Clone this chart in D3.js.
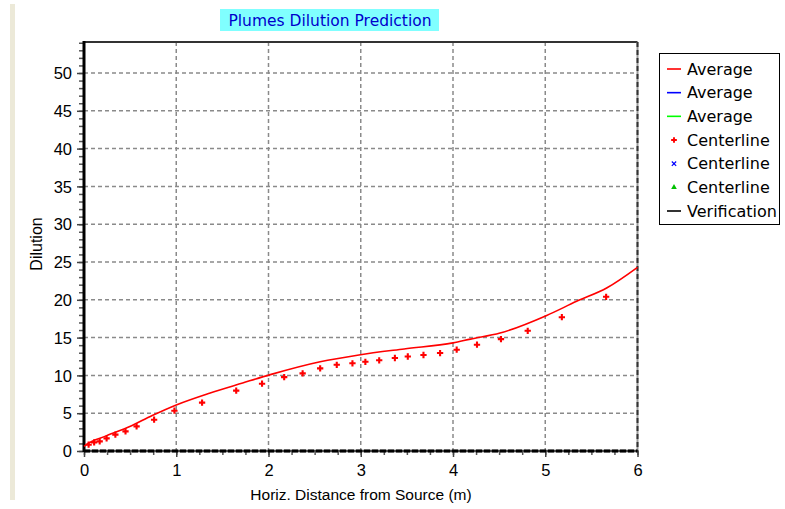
<!DOCTYPE html>
<html><head><meta charset="utf-8">
<script src="https://cdn.jsdelivr.net/npm/d3@7"></script>
<style>body{margin:0;background:#fff}svg{display:block}text{font-family:"Liberation Sans",Arial,sans-serif}text.v{font-family:"DejaVu Sans",Verdana,sans-serif}</style>
</head><body><svg id="c" width="785" height="509"></svg>
<script>
const titleText = "Plumes Dilution Prediction";
const xLabel = "Horiz. Distance from Source (m)";
const yLabel = "Dilution";
const xTicks = [0,1,2,3,4,5,6];
const yTicks = [0,5,10,15,20,25,30,35,40,45,50];
const avgX = [0, 0.02, 0.24, 0.49, 0.74, 1.0, 1.36, 1.72, 2.02, 2.56, 2.98, 3.47, 4.0, 4.19, 4.51, 5.01, 5.34, 5.67, 6.0];
const avgY = [0.6, 0.8, 2.0, 3.2, 4.7, 6.1, 7.65, 9.0, 10.1, 11.8, 12.7, 13.5, 14.3, 14.8, 15.6, 17.9, 19.8, 21.6, 24.3];
const cX = [0.05, 0.11, 0.17, 0.245, 0.34, 0.45, 0.57, 0.76, 0.98, 1.28, 1.65, 1.93, 2.17, 2.37, 2.56, 2.74, 2.91, 3.05, 3.2, 3.37, 3.51, 3.68, 3.86, 4.04, 4.26, 4.52, 4.81, 5.18, 5.66];
const cY = [0.83, 1.14, 1.27, 1.67, 2.16, 2.6, 3.26, 4.14, 5.33, 6.4, 7.98, 8.9, 9.77, 10.27, 10.93, 11.4, 11.6, 11.8, 12.0, 12.3, 12.5, 12.7, 12.96, 13.4, 14.06, 14.8, 15.9, 17.7, 20.4];
const legendNames = ["Average","Average","Average","Centerline","Centerline","Centerline","Verification"];
const legendKinds = ["line","line","line","plus","cross","tri","line"];
const legendColors = ["#ff0000","#0000ff","#00ff00","#ff0000","#0000ff","#00c000","#000000"];

const svg = d3.select("#c");
const L=84, R=637.5, T=42, B=451;
const x = d3.scaleLinear().domain([0,6]).range([L,R]);
const y = d3.scaleLinear().domain([0,54.1]).range([B,T]);

// beige strip
svg.append("rect").attr("x",10).attr("y",4).attr("width",5).attr("height",496).attr("fill","#ece9d8");

// title
const tg = svg.append("g");
tg.append("rect").attr("x",220).attr("y",9).attr("width",219).attr("height",22).attr("fill","#80ffff");
tg.append("text").attr("class","v").attr("x",330).attr("y",25.5).attr("text-anchor","middle").attr("font-size",15.5)
  .attr("fill","#0000cc").text(titleText);

// grid
const g = svg.append("g");
g.selectAll(".gx").data(xTicks.slice(1,-1)).join("line").attr("x1",d=>x(d)).attr("x2",d=>x(d)).attr("y1",T).attr("y2",B)
 .attr("stroke","#8a8a8a").attr("stroke-width",1.5).attr("stroke-dasharray","4,3");
g.selectAll(".gy").data(yTicks.slice(1)).join("line").attr("x1",L).attr("x2",R).attr("y1",d=>y(d)).attr("y2",d=>y(d))
 .attr("stroke","#8a8a8a").attr("stroke-width",1.5).attr("stroke-dasharray","4,3");

// frame
g.append("line").attr("x1",L).attr("x2",R).attr("y1",T).attr("y2",T).attr("stroke","#333").attr("stroke-width",2);
g.append("line").attr("x1",R).attr("x2",R).attr("y1",T).attr("y2",B).attr("stroke","#999").attr("stroke-width",2);
g.append("line").attr("x1",R).attr("x2",R).attr("y1",T).attr("y2",B).attr("stroke","#333").attr("stroke-width",2).attr("stroke-dasharray","5,3");

// axes
const yMinor = d3.range(0,55,1);
const xMinor = d3.range(0,6.01,0.25);
const ya = svg.append("g").attr("transform",`translate(${L},0)`)
 .call(d3.axisLeft(y).tickValues(yMinor).tickSize(5).tickFormat(""));
ya.select(".domain").remove();
ya.selectAll("line").attr("stroke","#555").attr("stroke-width",1.5).attr("x1",-1);
const ya2 = svg.append("g").attr("transform",`translate(${L},0)`)
 .call(d3.axisLeft(y).tickValues(yTicks).tickSize(7).tickPadding(5).tickFormat(d3.format("d")));
ya2.select(".domain").remove();
ya2.selectAll("line").attr("stroke","#444").attr("stroke-width",1.5);
ya2.selectAll("text").attr("font-size",16.5).attr("fill","#000").attr("dy","0.35em");

const xa = svg.append("g").attr("transform",`translate(0,${B})`)
 .call(d3.axisBottom(x).tickValues(xMinor).tickSize(4).tickFormat(""));
xa.select(".domain").remove();
xa.selectAll("line").attr("stroke","#555").attr("stroke-width",1.5);
const xa2 = svg.append("g").attr("transform",`translate(0,${B})`)
 .call(d3.axisBottom(x).tickValues(xTicks).tickSize(6).tickPadding(7).tickFormat(d3.format("d")));
xa2.select(".domain").remove();
xa2.selectAll("line").attr("stroke","#444").attr("stroke-width",1.5);
xa2.selectAll("text").attr("font-size",16.5).attr("fill","#000");

svg.append("line").attr("x1",L).attr("x2",L).attr("y1",T-1).attr("y2",B+1).attr("stroke","#000").attr("stroke-width",3);
svg.append("line").attr("x1",L).attr("x2",R).attr("y1",B).attr("y2",B).attr("stroke","#444").attr("stroke-width",2.5);
svg.append("line").attr("x1",L).attr("x2",R).attr("y1",B).attr("y2",B).attr("stroke","#000").attr("stroke-width",3).attr("stroke-dasharray","6,2");

// axis labels
svg.append("text").attr("x",361).attr("y",500).attr("text-anchor","middle").attr("font-size",15.5).text(xLabel);
svg.append("text").attr("transform","translate(42,244) rotate(-90)").attr("text-anchor","middle").attr("font-size",16).text(yLabel);

// data
const avg = avgX.map((v,i)=>[v,avgY[i]]);
svg.append("path").datum(avg).attr("d",d3.line().x(d=>x(d[0])).y(d=>y(d[1])).curve(d3.curveMonotoneX))
 .attr("fill","none").attr("stroke","#ff0000").attr("stroke-width",1.6);
const cen = cX.map((v,i)=>[v,cY[i]]);
svg.append("g").selectAll("path").data(cen).join("path")
 .attr("d",d3.symbol(d3.symbolCross,22)).attr("transform",d=>`translate(${x(d[0])},${y(d[1])})`).attr("fill","#ff0000");

// legend
const lg = svg.append("g");
lg.append("rect").attr("x",659.5).attr("y",53.5).attr("width",120).attr("height",171).attr("fill","#fff").attr("stroke","#000").attr("stroke-width",1);
const ly = d3.scalePoint().domain(d3.range(legendNames.length)).range([69,211]);
legendNames.forEach((n,i)=>{
  const yy = ly(i), c = legendColors[i], k = legendKinds[i];
  if(k==="line") lg.append("line").attr("x1",667).attr("x2",681).attr("y1",yy).attr("y2",yy).attr("stroke",c).attr("stroke-width",1.6);
  else if(k==="plus") lg.append("path").attr("d",d3.symbol(d3.symbolCross,18)).attr("transform",`translate(674,${yy})`).attr("fill",c);
  else if(k==="cross") lg.append("path").attr("d",d3.symbol(d3.symbolX,14)).attr("transform",`translate(674,${yy})`).attr("stroke",c).attr("stroke-width",1.2).attr("fill","none");
  else lg.append("path").attr("d",d3.symbol(d3.symbolTriangle,14)).attr("transform",`translate(674,${yy})`).attr("fill",c);
  lg.append("text").attr("class","v").attr("x",687).attr("y",yy+5.5).attr("font-size",16)
    .attr("fill","#000").text(n);
});
</script></body></html>
